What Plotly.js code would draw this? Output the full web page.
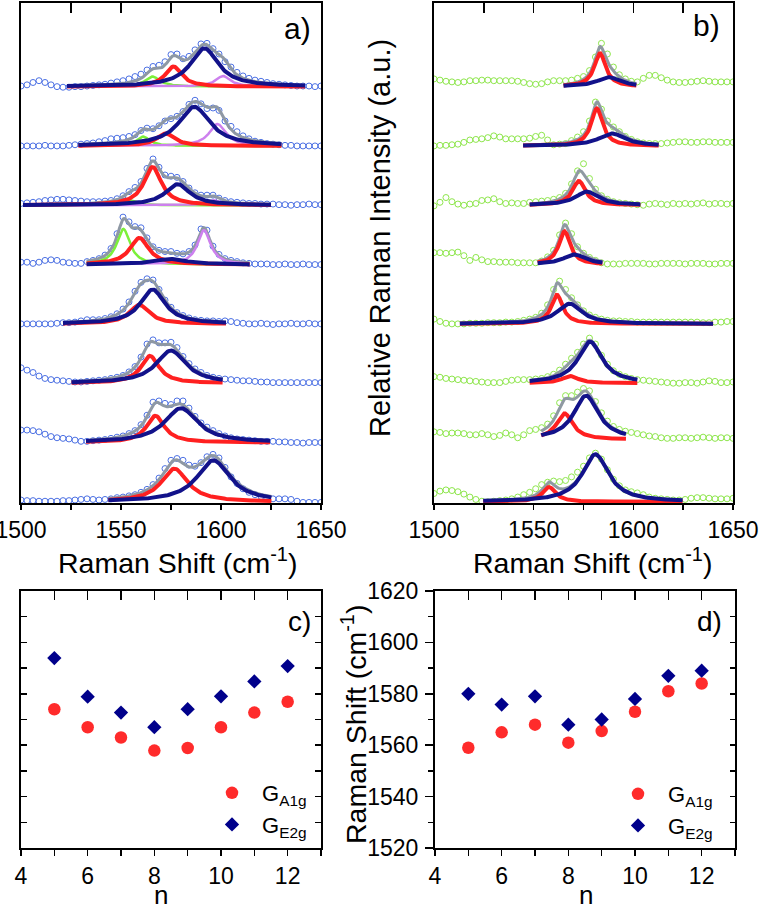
<!DOCTYPE html>
<html><head><meta charset="utf-8">
<script src="https://cdn.plot.ly/plotly-3.0.1.min.js"></script>
<style>html,body{margin:0;padding:0;background:#fff}#chart{width:761px;height:910px}</style>
</head><body><div id="chart"></div>
<script>
// ---------- DATA ----------
const shiftGrid = [1500,1503,1506,1509,1512,1515,1518,1521,1524,1527,1530,1533,1536,1539,1542,1545,1548,1551,1554,1557,1560,1563,1566,1569,1572,1575,1578,1581,1584,1587,1590,1593,1596,1599,1602,1605,1608,1611,1614,1617,1620,1623,1626,1629,1632,1635,1638,1641,1644,1647,1650];

// panel a measured spectra (relative intensity above each stacked baseline), n = 5..12
const specA5 = [0.03,0.02,0.02,0.01,0.01,0.01,0.01,0.02,0.02,0.03,0.04,0.05,0.04,0.03,0.04,0.05,0.07,0.08,0.10,0.12,0.16,0.21,0.29,0.40,0.56,0.70,0.73,0.70,0.62,0.60,0.66,0.76,0.80,0.74,0.58,0.42,0.31,0.22,0.16,0.12,0.09,0.06,0.05,0.05,0.05,0.04,0.01,-0.01,-0.01,-0.01,-0.01];
const specA6 = [0.21,0.21,0.20,0.18,0.14,0.10,0.08,0.07,0.06,0.04,0.02,0.02,0.03,0.04,0.05,0.07,0.09,0.11,0.15,0.20,0.30,0.46,0.68,0.70,0.66,0.64,0.70,0.70,0.58,0.44,0.33,0.26,0.20,0.15,0.11,0.08,0.06,0.05,0.04,0.03,0.02,0.02,0.02,0.01,0.01,0.00,0.00,-0.01,0.00,0.00,0.00];
const specA7 = [0.26,0.22,0.18,0.12,0.08,0.06,0.05,0.04,0.03,0.02,0.02,0.03,0.04,0.05,0.06,0.08,0.10,0.13,0.19,0.28,0.44,0.66,0.73,0.68,0.68,0.69,0.60,0.45,0.33,0.24,0.18,0.13,0.10,0.08,0.07,0.06,0.05,0.04,0.04,0.03,0.02,0.02,0.01,0.01,0.01,0.01,0.01,0.01,0.01,0.01,0.01];
const specA8 = [0.00,0.00,0.00,0.00,0.00,0.00,0.01,0.02,0.02,0.03,0.05,0.07,0.07,0.07,0.09,0.12,0.17,0.25,0.37,0.55,0.70,0.76,0.74,0.58,0.40,0.28,0.19,0.14,0.10,0.07,0.06,0.05,0.05,0.04,0.05,0.04,0.02,0.01,0.00,0.00,0.01,0.00,-0.01,0.00,0.00,0.01,0.00,0.00,0.01,0.00,0.00];
const specA9 = [0.04,0.04,0.02,0.04,0.07,0.08,0.07,0.04,0.03,0.02,0.02,0.05,0.07,0.10,0.16,0.27,0.52,0.80,0.72,0.64,0.62,0.45,0.30,0.24,0.22,0.22,0.19,0.18,0.22,0.33,0.60,0.58,0.31,0.17,0.10,0.07,0.05,0.03,0.02,0.01,0.01,0.01,0.00,0.00,0.01,0.00,0.00,0.01,0.00,0.00,0.00];
const specA10 = [0.03,0.04,0.05,0.06,0.08,0.09,0.10,0.10,0.09,0.08,0.07,0.06,0.06,0.06,0.07,0.08,0.11,0.16,0.23,0.30,0.40,0.62,0.78,0.64,0.51,0.49,0.47,0.40,0.29,0.21,0.17,0.17,0.17,0.12,0.08,0.06,0.05,0.04,0.03,0.03,0.02,0.02,0.02,0.01,0.01,0.00,0.01,0.01,0.02,0.01,0.01];
const specA11 = [0.00,0.00,0.00,0.00,0.01,0.00,0.00,0.00,0.01,0.02,0.03,0.04,0.05,0.07,0.09,0.12,0.13,0.14,0.16,0.19,0.26,0.30,0.29,0.34,0.42,0.46,0.50,0.58,0.70,0.77,0.71,0.63,0.64,0.60,0.42,0.33,0.24,0.17,0.12,0.08,0.06,0.04,0.03,0.02,0.01,0.01,0.00,0.00,0.00,0.00,0.00];
const specA12 = [0.01,0.03,0.07,0.10,0.07,0.03,0.00,-0.01,-0.01,0.00,0.00,0.01,0.02,0.03,0.04,0.06,0.08,0.10,0.13,0.17,0.21,0.28,0.34,0.36,0.42,0.54,0.55,0.47,0.51,0.62,0.72,0.73,0.64,0.55,0.42,0.33,0.24,0.18,0.14,0.11,0.09,0.07,0.05,0.04,0.03,0.02,0.01,0.01,0.01,0.00,0.01];

// panel b measured spectra, n = 5..12
const specB5 = [0.14,0.18,0.20,0.19,0.17,0.13,0.08,0.04,0.01,0.00,0.01,0.02,0.03,0.05,0.08,0.12,0.16,0.22,0.29,0.33,0.35,0.34,0.36,0.42,0.50,0.60,0.74,0.82,0.72,0.54,0.38,0.27,0.20,0.17,0.15,0.12,0.08,0.06,0.05,0.04,0.03,0.03,0.04,0.06,0.07,0.07,0.06,0.05,0.05,0.05,0.06];
const specB6 = [0.13,0.12,0.10,0.11,0.11,0.10,0.08,0.08,0.10,0.08,0.05,0.07,0.11,0.08,0.03,0.08,0.15,0.17,0.20,0.26,0.40,0.62,0.74,0.74,0.80,0.86,0.82,0.64,0.45,0.31,0.22,0.17,0.14,0.12,0.10,0.08,0.06,0.05,0.03,0.02,0.02,0.03,0.03,0.02,0.03,0.04,0.03,0.02,0.03,0.03,0.02];
const specB7 = [0.11,0.10,0.08,0.07,0.06,0.05,0.04,0.03,0.02,0.01,0.01,0.01,0.03,0.05,0.06,0.06,0.06,0.07,0.08,0.11,0.15,0.22,0.32,0.42,0.52,0.66,0.76,0.66,0.47,0.32,0.21,0.15,0.11,0.08,0.06,0.05,0.04,0.03,0.02,0.01,0.00,0.00,0.01,0.01,0.00,0.02,0.04,0.03,0.01,0.01,0.02];
const specB8 = [0.08,0.04,0.01,0.00,0.00,0.00,0.01,0.01,0.01,0.02,0.02,0.02,0.03,0.03,0.04,0.06,0.08,0.11,0.18,0.32,0.58,0.72,0.58,0.44,0.32,0.22,0.15,0.11,0.08,0.06,0.05,0.05,0.04,0.04,0.03,0.03,0.03,0.03,0.03,0.03,0.03,0.03,0.03,0.03,0.03,0.02,0.02,0.03,0.03,0.04,0.04];
const specB9 = [0.20,0.20,0.19,0.20,0.21,0.15,0.07,0.12,0.08,0.05,0.05,0.04,0.04,0.04,0.03,0.03,0.03,0.03,0.06,0.13,0.24,0.50,0.70,0.52,0.30,0.19,0.12,0.07,0.03,0.01,0.01,0.01,0.02,0.02,0.02,0.02,0.01,0.01,0.02,0.02,0.02,0.02,0.01,0.02,0.02,0.02,0.01,0.01,0.02,0.02,0.02];
const specB10 = [-0.01,0.05,0.13,0.06,0.02,0.00,0.02,0.03,0.08,0.09,0.11,0.06,0.03,0.04,0.03,0.03,0.05,0.06,0.07,0.08,0.10,0.13,0.20,0.36,0.58,0.70,0.45,0.27,0.16,0.10,0.06,0.04,0.03,0.02,0.01,0.00,0.02,0.03,0.02,0.01,0.03,0.02,0.03,0.02,0.03,0.04,0.02,0.03,0.03,0.02,0.03];
const specB11 = [0.00,0.01,0.01,0.02,0.03,0.06,0.10,0.11,0.12,0.14,0.17,0.15,0.12,0.12,0.12,0.12,0.13,0.16,0.18,0.10,0.02,0.03,0.04,0.09,0.15,0.24,0.42,0.74,0.62,0.42,0.32,0.24,0.16,0.11,0.07,0.05,0.04,0.04,0.04,0.05,0.06,0.07,0.07,0.06,0.06,0.07,0.07,0.06,0.06,0.06,0.06];
const specB12 = [0.13,0.11,0.09,0.08,0.07,0.08,0.10,0.10,0.11,0.11,0.10,0.10,0.10,0.10,0.09,0.07,0.05,0.04,0.05,0.08,0.10,0.10,0.10,0.11,0.14,0.17,0.27,0.50,0.73,0.55,0.33,0.20,0.13,0.09,0.08,0.14,0.19,0.19,0.15,0.11,0.08,0.07,0.07,0.08,0.09,0.10,0.09,0.08,0.08,0.08,0.08];

// fitted Lorentzian components: [band, centre, half width, amplitude]
const peaksA5  = [['A1g',1576.7,8,0.56],['E2g',1596.2,10,0.70]];
const peaksA6  = [['A1g',1567.2,5.5,0.45],['E2g',1580,10,0.58]];
const peaksA7  = [['A1g',1564.5,5.5,0.46],['E2g',1575,9,0.55]];
const peaksA8  = [['A1g',1559.2,6,0.32],['E2g',1565.8,7.5,0.58]];
const peaksA9  = [['low',1551.2,4,0.60],['high',1591.5,4,0.58],['A1g',1559.2,5.7,0.45],['E2g',1574.5,10,0.095]];
const peaksA10 = [['low',1554.5,4,0.08],['high',1596.2,4,0.084],['A1g',1565.8,5.3,0.646],['E2g',1578.3,7.5,0.354]];
const peaksA11 = [['low',1561.2,4,0.157],['high',1598.2,5,0.37],['A1g',1572.3,5.5,0.21],['E2g',1586.7,9.5,0.66]];
const peaksA12 = [['low',1565.8,4.5,0.17],['high',1601,4.5,0.18],['A1g',1576.2,5,0.34],['E2g',1591.7,8.5,0.646]];
const fitRangesA = [[1543.7,1625.3],[1532.5,1624.5],[1525.3,1600.8],[1521,1602.8],[1532.8,1614.5],[1501,1625],[1528.7,1630.3],[1523,1642]];

const peaksB5  = [['A1g',1557.7,4,0.25],['E2g',1581,8,0.80]];
const peaksB6  = [['A1g',1565.5,5,0.44],['E2g',1576.3,7.5,0.74]];
const peaksB7  = [['A1g',1568.3,5,0.12],['E2g',1578.3,7.3,0.70]];
const peaksB8  = [['A1g',1561.7,3.5,0.49],['E2g',1568,7.5,0.34]];
const peaksB9  = [['A1g',1565.5,3.5,0.56],['E2g',1570.5,7,0.17]];
const peaksB10 = [['A1g',1572.7,4,0.41],['E2g',1576.7,7,0.23]];
const peaksB11 = [['A1g',1581.7,3.5,0.63],['E2g',1589.3,8,0.21]];
const peaksB12 = [['A1g',1583.3,3.5,0.56],['E2g',1587.7,7,0.16]];
const fitRangesB = [[1524.7,1625],[1553.8,1596.3],[1548,1602.2],[1513,1640],[1552,1584.7],[1548,1603.8],[1544.7,1613],[1565,1601.7]];

// panels c and d
const nLayers = [5,6,7,8,9,10,11,12];
const gA1gC = [1574.0,1567.0,1563.0,1557.9,1558.9,1567.0,1572.7,1576.9];
const gE2gC = [1593.9,1578.9,1572.7,1567.0,1574.0,1579.0,1584.8,1590.8];
const gA1gD = [1559.0,1565.0,1568.0,1561.0,1565.5,1573.0,1581.0,1584.0];
const gE2gD = [1580.0,1575.8,1579.0,1568.0,1570.0,1578.0,1587.0,1589.0];

// ---------- LAYOUT / STYLE ----------
const stackOffsetsA = [0,1,2,3,4,5,6,7];
const stackOffsetsB = [0,1.05,2,3,4,5,6,7];
const FONT = 'Liberation Sans, Arial, sans-serif';
const compColor = {low:'#7cf03a', high:'#cd80ee', A1g:'#ff2020', E2g:'#12128a'};
const compWidth = {low:2.5, high:2.5, A1g:4, E2g:4};

function lorentz(x, c, w, a){ const d = (x - c) / w; return a / (1 + d * d); }

const panels = [
  {xa:'x', ya:'y', specs:[specA5,specA6,specA7,specA8,specA9,specA10,specA11,specA12],
   peaks:[peaksA5,peaksA6,peaksA7,peaksA8,peaksA9,peaksA10,peaksA11,peaksA12],
   ranges:fitRangesA, offsets:stackOffsetsA, dot:'#4e72e4', gray:'#8e98a4'},
  {xa:'x2', ya:'y2', specs:[specB5,specB6,specB7,specB8,specB9,specB10,specB11,specB12],
   peaks:[peaksB5,peaksB6,peaksB7,peaksB8,peaksB9,peaksB10,peaksB11,peaksB12],
   ranges:fitRangesB, offsets:stackOffsetsB, dot:'#8ee64c', gray:'#8f99a2'}
];

const traces = [];
panels.forEach(p => {
  p.specs.forEach((s, i) => {
    traces.push({x:shiftGrid, y:s.map(v => v + p.offsets[i]), xaxis:p.xa, yaxis:p.ya, type:'scatter', mode:'markers',
      showlegend:false, hoverinfo:'skip',
      marker:{symbol:'circle-open', size:6, color:p.dot, line:{width:1, color:p.dot}}});
  });
  const grayT = [], lowT = [], redT = [];
  p.peaks.forEach((pk, i) => {
    const [r0, r1] = p.ranges[i];
    const xs = [];
    for (let x = r0; x <= r1 + 1e-9; x += 0.5) xs.push(+x.toFixed(2));
    const sum = xs.map(x => pk.reduce((acc, c) => acc + lorentz(x, c[1], c[2], c[3]), 0) + p.offsets[i]);
    grayT.push({x:xs, y:sum, xaxis:p.xa, yaxis:p.ya, type:'scatter', mode:'lines', showlegend:false, hoverinfo:'skip',
      line:{color:p.gray, width:3}});
    pk.forEach(c => {
      const t = {x:xs, y:xs.map(x => lorentz(x, c[1], c[2], c[3]) + p.offsets[i]), xaxis:p.xa, yaxis:p.ya,
        type:'scatter', mode:'lines', showlegend:false, hoverinfo:'skip',
        line:{color:compColor[c[0]], width:compWidth[c[0]]}};
      (c[0] === 'low' || c[0] === 'high' ? lowT : redT).push(t);
    });
  });
  traces.push(...grayT, ...lowT, ...redT);
});

traces.push({x:nLayers, y:gA1gC, xaxis:'x3', yaxis:'y3', type:'scatter', mode:'markers', name:'G<sub>A1g</sub>', legend:'legend',
  marker:{symbol:'circle', size:12.5, color:'#ff2b2b'}});
traces.push({x:nLayers, y:gE2gC, xaxis:'x3', yaxis:'y3', type:'scatter', mode:'markers', name:'G<sub>E2g</sub>', legend:'legend',
  marker:{symbol:'diamond', size:11, color:'#00008b'}});
traces.push({x:nLayers, y:gA1gD, xaxis:'x4', yaxis:'y4', type:'scatter', mode:'markers', name:'G<sub>A1g</sub>', legend:'legend2',
  marker:{symbol:'circle', size:12.5, color:'#ff2b2b'}});
traces.push({x:nLayers, y:gE2gD, xaxis:'x4', yaxis:'y4', type:'scatter', mode:'markers', name:'G<sub>E2g</sub>', legend:'legend2',
  marker:{symbol:'diamond', size:11, color:'#00008b'}});

// empty traces hosting the mirrored (inward) tick axes
[['x5','y'],['x6','y2'],['x7','y3'],['x8','y4'],['x4','y5']].forEach(([xa,ya]) =>
  traces.push({x:[], y:[], xaxis:xa, yaxis:ya, type:'scatter', mode:'markers', showlegend:false, hoverinfo:'skip'}));

const W = 761, H = 910;
const px = v => v / W, py = v => 1 - v / H;
const frame = {showline:true, linecolor:'#000', linewidth:2, mirror:true, showgrid:false, zeroline:false, fixedrange:true};
const mirrorAx = {showline:false, showgrid:false, zeroline:false, showticklabels:false, tickcolor:'#000', tickwidth:1.5};
const tf = {family:FONT, size:23, color:'#000'};
const ann = (text, x, y, size, angle) => ({text, xref:'paper', yref:'paper', x:px(x), y:py(y), xanchor:'center', yanchor:'middle',
  showarrow:false, textangle:angle || 0, font:{family:FONT, size, color:'#000'}});

const layout = {
  width:W, height:H, margin:{l:0, r:0, t:0, b:0, pad:0}, paper_bgcolor:'#fff', plot_bgcolor:'#fff',
  font:{family:FONT, color:'#000'}, showlegend:true,
  xaxis:{...frame, domain:[px(21), px(321)], anchor:'y', range:[1500,1650], tickvals:[1500,1550,1600,1650],
    ticks:'outside', ticklen:5, tickwidth:1.5, tickcolor:'#000', tickfont:tf, ticklabelstandoff:0, ticklabeloverflow:'allow',
    minor:{tick0:1500, dtick:25, ticks:'outside', ticklen:5, tickwidth:1.5, tickcolor:'#000'}},
  yaxis:{...frame, domain:[py(503), py(3)], anchor:'x', range:[-0.02, 8.41], ticks:'', showticklabels:false},
  xaxis2:{...frame, domain:[px(434), px(733)], anchor:'y2', range:[1500,1650], tickvals:[1500,1550,1600,1650],
    ticks:'outside', ticklen:5, tickwidth:1.5, tickcolor:'#000', tickfont:tf, ticklabelstandoff:0, ticklabeloverflow:'allow',
    minor:{tick0:1500, dtick:25, ticks:'outside', ticklen:5, tickwidth:1.5, tickcolor:'#000'}},
  yaxis2:{...frame, domain:[py(503), py(3)], anchor:'x2', range:[-0.02, 8.41], ticks:'', showticklabels:false},
  xaxis3:{...frame, domain:[px(21), px(321)], anchor:'y3', range:[4,13], tick0:4, dtick:2,
    ticks:'outside', ticklen:6, tickwidth:1.5, tickcolor:'#000', tickfont:tf, ticklabelstandoff:0, ticklabeloverflow:'allow',
    minor:{tick0:4, dtick:1, ticks:'outside', ticklen:6, tickwidth:1.5, tickcolor:'#000'}},
  yaxis3:{...frame, mirror:'ticks', domain:[py(848), py(591)], anchor:'x3', range:[1520,1620], tick0:1520, dtick:10,
    ticks:'inside', ticklen:6, tickwidth:1.5, tickcolor:'#000', showticklabels:false},
  xaxis4:{...frame, domain:[px(435), px(735)], anchor:'y4', range:[4,13], tick0:4, dtick:2,
    ticks:'outside', ticklen:6, tickwidth:1.5, tickcolor:'#000', tickfont:tf, ticklabelstandoff:0, ticklabeloverflow:'allow',
    minor:{tick0:4, dtick:1, ticks:'outside', ticklen:6, tickwidth:1.5, tickcolor:'#000'}},
  yaxis4:{...frame, domain:[py(848), py(591)], anchor:'x4', range:[1520,1620], tick0:1520, dtick:20,
    ticks:'outside', ticklen:8, tickwidth:1.5, tickcolor:'#000', tickfont:tf, ticklabelstandoff:2, ticklabeloverflow:'allow',
    minor:{tick0:1520, dtick:10, ticks:'outside', ticklen:5, tickwidth:1.5, tickcolor:'#000'}},
  xaxis5:{...mirrorAx, overlaying:'x', anchor:'y', side:'top', range:[1500,1650], tick0:1500, dtick:25, ticks:'inside', ticklen:10},
  xaxis6:{...mirrorAx, overlaying:'x2', anchor:'y2', side:'top', range:[1500,1650], tick0:1500, dtick:25, ticks:'inside', ticklen:10},
  xaxis7:{...mirrorAx, overlaying:'x3', anchor:'y3', side:'top', range:[4,13], tick0:4, dtick:1, ticks:'inside', ticklen:9},
  xaxis8:{...mirrorAx, overlaying:'x4', anchor:'y4', side:'top', range:[4,13], tick0:4, dtick:1, ticks:'inside', ticklen:9},
  yaxis5:{...mirrorAx, overlaying:'y4', anchor:'x4', side:'right', range:[1520,1620], tick0:1520, dtick:10, ticks:'inside', ticklen:5},
  legend:{x:px(202), y:py(772), xanchor:'left', yanchor:'top', bgcolor:'rgba(0,0,0,0)', borderwidth:0,
    font:{family:FONT, size:22, color:'#000'}, itemwidth:50, itemsizing:'trace'},
  legend2:{x:px(608), y:py(773), xanchor:'left', yanchor:'top', bgcolor:'rgba(0,0,0,0)', borderwidth:0,
    font:{family:FONT, size:22, color:'#000'}, itemwidth:50, itemsizing:'trace'},
  annotations:[
    ann('a)', 297, 29, 30),
    ann('b)', 706, 25, 30),
    ann('c)', 299, 621, 28),
    ann('d)', 709, 621, 28),
    ann('Raman Shift (cm<sup>-1</sup>)', 177, 561, 28.5),
    ann('Raman Shift (cm<sup>-1</sup>)', 592, 561, 28.5),
    ann('Relative Raman Intensity (a.u.)', 380, 238, 29, -90),
    ann('Raman Shift (cm<sup>-1</sup>)', 354, 725, 28.5, -90),
    ann('n', 161, 895, 26),
    ann('n', 586, 895, 26)
  ]
};

Plotly.newPlot('chart', traces, layout, {staticPlot:true, displayModeBar:false});
</script></body></html>
